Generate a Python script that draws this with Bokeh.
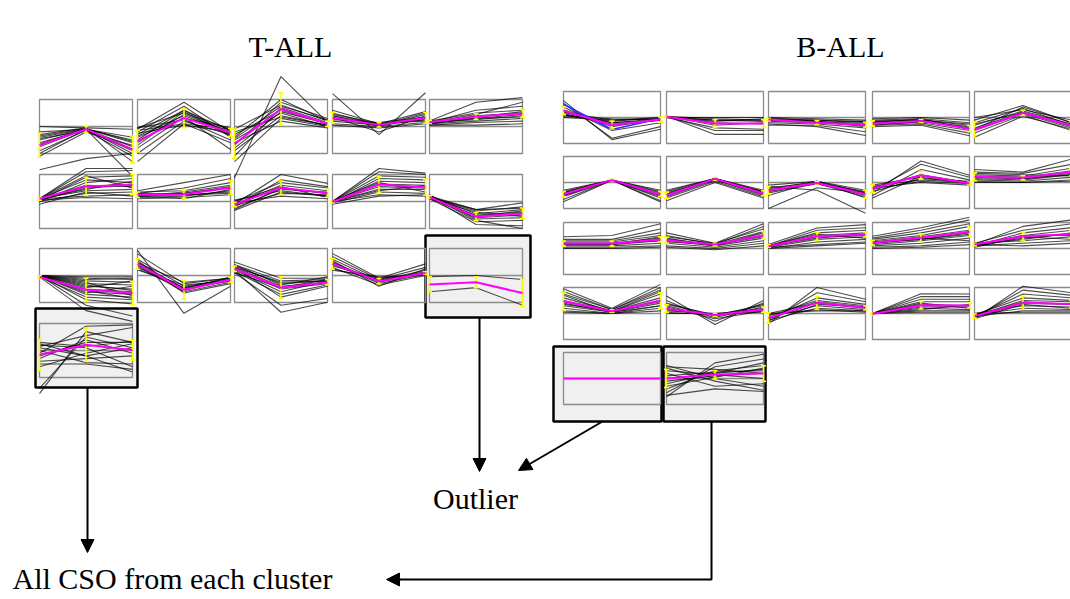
import numpy as np
from bokeh.plotting import figure
from bokeh.models import Range1d, Arrow, NormalHead
from bokeh.core.properties import value
from bokeh.embed import file_html
from bokeh.resources import INLINE

# ---------------- DATA (local units: midline = 0, box edge = +/-1) ----------------
TITLES = ["T-ALL", "B-ALL"]
LABEL_OUTLIER = "Outlier"
LABEL_CSO = "All CSO from each cluster"

# T-ALL clusters: rows 1-3 x 5 columns, then row 4 col 1
T_MEANS = [
    [-0.69, -0.10, -0.85], [-0.54, 0.31, -0.22], [-0.64, 0.65, 0.10], [0.32, 0.06, 0.32], [0.16, 0.37, 0.48],
    [0.10, 0.56, 0.62], [0.25, 0.27, 0.51], [-0.11, 0.51, 0.31], [-0.02, 0.63, 0.53], [0.16, -0.56, -0.44],
    [-0.06, -0.53, -0.65], [0.43, -0.53, -0.16], [0.25, -0.45, -0.25], [0.43, -0.21, 0.09], [-0.33, -0.25, -0.65],
    [-0.16, 0.21, 0.01],
]
T_ERRS = [
    [0.45, 0.12, 0.5], [0.4, 0.35, 0.15], [0.55, 0.6, 0.1], [0.2, 0.08, 0.2], [0.05, 0.1, 0.15],
    [0.05, 0.34, 0.37], [0.1, 0.15, 0.25], [0.08, 0.25, 0.15], [0.03, 0.3, 0.3], [0.05, 0.15, 0.2],
    [0.05, 0.43, 0.43], [0.2, 0.35, 0.1], [0.1, 0.4, 0.1], [0.2, 0.1, 0.05], [0.28, 0.2, 0.5],
    [0.58, 0.62, 0.37],
]
T_LINES = [
    [[0.0, -0.05, -0.1], [-0.2, -0.1, -0.4], [-0.35, -0.08, -0.6], [-0.5, -0.1, -0.75], [-0.6, -0.12, -0.9],
     [-0.75, -0.1, -1.0], [-0.9, -0.15, -1.1], [-1.1, -0.2, -0.7], [-0.3, -0.05, -1.3], [-1.6, -1.19, -1.0],
     [-0.4, -0.1, -1.85], [-1.0, -0.1, -0.5], [-0.65, -0.08, -0.55], [-0.45, -0.15, -0.85]],
    [[-0.1, 0.9, -0.2], [-0.2, 0.75, -0.4], [-0.3, 0.6, -0.3], [-0.05, 0.5, -0.1], [-0.6, 0.45, -0.2],
     [-0.4, 0.3, -0.05], [-1.0, 0.2, -0.3], [-1.3, 0.1, -0.6], [-0.8, 0.35, -0.85], [-0.15, 0.1, -0.1],
     [-0.25, 0.05, -0.2], [-0.5, 0.6, -0.15], [-0.05, 0.25, -0.5], [-0.35, 0.4, -0.25], [-0.7, 0.55, -0.35]],
    [[-0.1, 0.8, 0.2], [-0.3, 0.6, 0.1], [-0.5, 0.5, 0.0], [-0.7, 0.9, 0.3], [-0.9, 0.4, 0.05],
     [-1.1, 0.7, 0.15], [-1.3, 0.3, 0.0], [-0.2, 0.35, 0.05], [-0.4, 1.0, 0.2], [-0.6, 0.2, -0.05],
     [-1.9, 1.85, 0.15], [-0.8, 0.55, 0.1], [-0.45, 0.75, 0.25]],
    [[0.6, 0.1, 0.55], [0.5, 0.05, 0.5], [0.4, 0.0, 0.45], [0.3, 0.1, 0.3], [0.2, 0.05, 0.25],
     [0.1, 0.0, 0.15], [0.05, -0.05, 0.1], [0.35, -0.2, 0.4], [0.25, 0.15, 0.35], [0.45, 0.12, 0.2],
     [1.22, -0.3, 1.25], [0.3, 0.05, 0.35], [0.4, 0.08, 0.25]],
    [[0.05, 0.15, 0.2], [0.1, 0.2, 0.3], [0.15, 0.3, 0.35], [0.1, 0.4, 0.5], [0.2, 0.5, 0.6],
     [0.15, 0.6, 0.75], [0.2, 0.9, 1.07], [0.1, 0.3, 0.45], [0.05, 0.05, 0.1], [0.15, 0.45, 0.9],
     [0.1, 0.35, 0.55], [0.15, 0.25, 0.4]],
    [[0.1, 1.22, 1.22], [0.1, 1.1, 1.15], [0.05, 0.9, 0.95], [0.1, 0.8, 0.7], [0.0, 0.7, 0.85],
     [0.1, 0.6, 0.55], [0.05, 0.5, 0.6], [0.1, 0.4, 0.45], [0.0, 0.3, 0.35], [0.1, 0.2, 0.25],
     [0.05, 0.15, 0.1], [0.1, 0.95, 0.5], [0.1, 0.45, 0.75], [-0.1, 0.35, 0.2], [0.05, 0.55, 0.65]],
    [[0.4, 0.7, 1.0], [0.3, 0.5, 0.85], [0.35, 0.4, 0.7], [0.2, 0.35, 0.6], [0.25, 0.3, 0.5],
     [0.15, 0.2, 0.4], [0.3, 0.25, 0.3], [0.1, 0.15, 0.25], [0.2, 0.1, 0.45], [0.25, 0.3, 0.55],
     [0.2, 0.25, 0.35]],
    [[-0.1, 1.0, 0.67], [-0.2, 0.8, 0.55], [0.0, 0.7, 0.5], [-0.1, 0.6, 0.4], [-0.3, 0.5, 0.3],
     [0.05, 0.4, 0.2], [-0.15, 0.3, 0.25], [-0.05, 0.2, 0.1], [-0.25, 0.45, 0.35], [0.0, 0.55, 0.15],
     [-0.33, 0.35, 0.2], [-0.1, 0.5, 0.3]],
    [[0.0, 1.22, 1.05], [0.0, 1.1, 1.0], [0.0, 0.95, 0.9], [-0.05, 0.85, 0.8], [0.0, 0.75, 0.7],
     [0.0, 0.65, 0.6], [0.0, 0.55, 0.5], [0.0, 0.45, 0.45], [-0.05, 0.35, 0.3], [0.0, 0.25, 0.2],
     [0.0, 0.7, 0.35], [0.0, 0.4, 0.6], [-0.1, 0.2, 0.25]],
    [[0.2, -0.3, -0.05], [0.15, -0.35, -0.2], [0.2, -0.45, -0.3], [0.1, -0.5, -0.4], [0.15, -0.6, -0.5],
     [0.25, -0.65, -0.6], [0.1, -0.75, -0.7], [0.2, -0.85, -0.9], [0.15, -0.55, -0.35], [0.1, -0.4, -0.55],
     [0.2, -0.7, -1.0], [0.15, -0.3, -0.25], [0.2, -0.55, -0.45]],
    [[0.0, -0.05, -0.05], [0.0, -0.1, -0.15], [0.0, -0.2, -0.25], [0.0, -0.3, -0.35], [0.0, -0.4, -0.5],
     [-0.05, -0.5, -0.6], [0.0, -0.6, -0.7], [0.0, -0.7, -0.8], [-0.05, -0.8, -0.9], [0.0, -0.9, -1.05],
     [0.0, -0.45, -0.2], [0.0, -0.25, -0.75], [0.0, -1.1, -1.5], [-0.05, -1.3, -1.7], [0.0, -0.35, -0.55],
     [0.0, -0.65, -0.4], [0.0, -0.15, -0.1], [0.0, -0.55, -0.85]],
    [[0.93, -1.4, -0.4], [0.8, -0.3, -0.1], [0.6, -0.4, -0.15], [0.5, -0.5, -0.2], [0.4, -0.55, -0.15],
     [0.35, -0.6, -0.25], [0.3, -0.45, -0.1], [0.2, -0.35, -0.2], [0.45, -0.25, -0.1], [0.55, -0.65, -0.3],
     [0.25, -0.5, -0.05], [0.4, -0.45, -0.2]],
    [[0.5, -0.1, -0.1], [0.4, -0.2, -0.15], [0.35, -0.3, -0.2], [0.3, -0.4, -0.25], [0.25, -0.5, -0.3],
     [0.2, -0.6, -0.2], [0.15, -0.7, -0.35], [0.3, -0.8, -0.4], [0.1, -1.1, -0.85], [0.2, -1.36, -0.99],
     [0.4, -0.35, -0.05], [0.1, -0.45, -0.15], [0.3, -0.25, -0.2]],
    [[0.81, -0.1, 0.43], [0.7, -0.15, 0.3], [0.6, -0.2, 0.2], [0.5, -0.25, 0.1], [0.45, -0.3, 0.05],
     [0.4, -0.2, 0.15], [0.3, -0.35, 0.0], [0.25, -0.15, 0.1], [0.35, -0.1, 0.05], [0.55, -0.4, 0.25],
     [0.2, -0.05, 0.0], [0.45, -0.2, 0.1]],
    [[-0.04, 0.0, -0.15], [-0.6, -0.45, -1.1]],
    [[-1.6, 0.7, 0.3], [-1.4, 0.5, 0.1], [0.2, 0.1, -0.6], [0.1, -0.2, -0.8], [-0.2, 0.3, 0.3],
     [-0.4, -0.3, -0.2], [0.3, 0.15, 0.35], [-0.6, -0.1, 0.25], [0.0, -0.45, -0.5], [-0.3, 0.4, -0.1],
     [0.15, 0.55, 0.85], [-0.1, 0.9, 0.95], [0.25, -0.2, 0.1], [-0.5, -0.5, -0.7]],
]

# B-ALL clusters: rows 1-4 x 5 columns, then row 5 cols 1-2
B_MEANS = [
    [0.26, -0.29, -0.08], [0.03, -0.23, -0.23], [-0.08, -0.20, -0.28], [-0.23, -0.13, -0.43], [-0.47, 0.18, -0.30],
    [-0.45, 0.09, -0.45], [-0.49, 0.14, -0.42], [-0.30, -0.02, -0.45], [-0.23, 0.28, -0.04], [0.22, 0.18, 0.40],
    [0.19, 0.19, 0.35], [0.31, 0.15, 0.51], [0.09, 0.47, 0.54], [0.22, 0.41, 0.64], [0.15, 0.47, 0.55],
    [0.47, 0.09, 0.50], [0.19, -0.06, 0.15], [-0.17, 0.41, 0.22], [-0.02, 0.32, 0.31], [-0.10, 0.41, 0.36],
    [0.0, 0.0, 0.0], [0.0, 0.15, 0.19],
]
B_ERRS = [
    [0.15, 0.15, 0.1], [0.03, 0.15, 0.15], [0.05, 0.08, 0.1], [0.1, 0.05, 0.12], [0.3, 0.1, 0.15],
    [0.1, 0.03, 0.1], [0.12, 0.05, 0.1], [0.15, 0.05, 0.15], [0.15, 0.15, 0.05], [0.15, 0.08, 0.15],
    [0.1, 0.1, 0.1], [0.12, 0.05, 0.15], [0.05, 0.15, 0.1], [0.1, 0.15, 0.2], [0.05, 0.15, 0.15],
    [0.35, 0.05, 0.3], [0.15, 0.05, 0.1], [0.2, 0.25, 0.08], [0.03, 0.15, 0.1], [0.08, 0.25, 0.15],
    [0.0, 0.0, 0.0], [0.35, 0.15, 0.3],
]
B_BLUE = [0.51, -0.46, -0.04]  # highlighted profile in first B-ALL cluster
B_LINES = [
    [[0.65, -0.85, -0.45], [0.55, -0.8, -0.35], [0.4, -0.5, -0.2], [0.3, -0.3, -0.1], [0.2, -0.2, -0.05],
     [0.1, -0.15, 0.0], [0.0, -0.1, 0.0], [0.15, -0.25, -0.1], [0.25, -0.35, -0.05], [0.05, -0.05, -0.1],
     [0.2, -0.1, -0.05], [0.1, -0.2, -0.1]],
    [[0.05, -0.65, -0.65], [0.05, -0.5, -0.5], [0.0, -0.4, -0.45], [0.05, -0.2, -0.25], [0.0, -0.1, -0.15],
     [0.05, -0.05, -0.1], [0.0, -0.15, -0.05], [0.05, -0.3, -0.2], [0.0, 0.0, 0.0], [0.03, -0.1, -0.1]],
    [[0.0, -0.05, -0.1], [-0.05, -0.1, -0.2], [-0.1, -0.15, -0.25], [-0.15, -0.2, -0.3], [-0.2, -0.25, -0.4],
     [-0.25, -0.35, -0.69], [-0.3, -0.3, -0.55], [-0.05, -0.2, -0.15], [0.0, -0.15, -0.35], [-0.1, -0.1, -0.15]],
    [[-0.05, 0.0, -0.1], [-0.1, -0.05, -0.2], [-0.15, -0.1, -0.3], [-0.2, -0.15, -0.4], [-0.25, -0.2, -0.5],
     [-0.3, -0.25, -0.6], [-0.35, -0.3, -0.7], [-0.2, -0.05, -0.45], [-0.3, -0.15, -0.35], [-0.15, -0.1, -0.25]],
    [[-0.1, 0.46, -0.2], [-0.2, 0.35, -0.3], [-0.3, 0.25, -0.25], [-0.4, 0.2, -0.35], [-0.5, 0.15, -0.4],
     [-0.6, 0.1, -0.5], [-0.76, 0.05, -0.45], [0.0, 0.3, -0.1], [-0.45, 0.4, -0.2], [-0.25, 0.2, -0.3]],
    [[-0.3, 0.09, -0.3], [-0.35, 0.09, -0.4], [-0.4, 0.09, -0.45], [-0.45, 0.09, -0.5], [-0.5, 0.09, -0.55],
     [-0.55, 0.09, -0.6], [-0.65, 0.09, -0.7], [-0.74, 0.09, -0.75], [-0.4, 0.09, -0.35], [-0.5, 0.09, -0.45]],
    [[-0.3, 0.15, -0.3], [-0.4, 0.1, -0.35], [-0.45, 0.15, -0.4], [-0.5, 0.12, -0.45], [-0.55, 0.1, -0.5],
     [-0.6, 0.05, -0.55], [-0.7, 0.0, -0.6], [-0.35, 0.15, -0.45], [-0.5, 0.15, -0.35], [-0.45, 0.12, -0.4]],
    [[-1.0, -0.2, -0.4], [-0.1, 0.05, -0.3], [-0.2, 0.0, -0.35], [-0.25, 0.05, -0.4], [-0.3, -0.05, -0.45],
     [-0.35, 0.0, -0.5], [-0.4, -0.05, -0.55], [-0.5, 0.05, -0.6], [-0.15, -0.3, -1.18], [-0.3, 0.0, -0.4]],
    [[-0.4, 0.83, 0.28], [-0.3, 0.7, 0.2], [-0.5, 0.5, 0.1], [-0.2, 0.3, 0.0], [-0.1, 0.2, -0.05],
     [-0.15, 0.1, 0.0], [-0.25, 0.05, -0.05], [-0.35, 0.15, 0.05], [-0.6, 0.25, -0.05], [-0.2, 0.0, -0.1]],
    [[0.5, 0.4, 0.9], [0.4, 0.35, 0.7], [0.3, 0.25, 0.55], [0.25, 0.2, 0.45], [0.2, 0.15, 0.35],
     [0.15, 0.1, 0.3], [0.1, 0.05, 0.2], [0.05, 0.0, 0.1], [0.0, 0.0, 0.05], [0.35, 0.3, 0.25], [0.2, 0.15, 0.3]],
    [[0.45, 0.5, 0.95], [0.35, 0.35, 0.75], [0.3, 0.3, 0.6], [0.25, 0.25, 0.5], [0.2, 0.2, 0.4],
     [0.15, 0.15, 0.3], [0.1, 0.1, 0.2], [0.05, 0.05, 0.1], [0.0, 0.0, 0.05], [0.2, 0.15, 0.45], [0.15, 0.2, 0.3]],
    [[0.6, 0.2, 0.95], [0.5, 0.15, 0.85], [0.45, 0.2, 0.75], [0.4, 0.1, 0.6], [0.35, 0.15, 0.5],
     [0.3, 0.1, 0.4], [0.2, 0.05, 0.3], [0.1, 0.0, 0.2], [0.05, -0.05, 0.1], [0.25, 0.15, 0.65], [0.3, 0.15, 0.45]],
    [[0.15, 0.79, 0.92], [0.1, 0.7, 0.8], [0.1, 0.6, 0.7], [0.05, 0.5, 0.6], [0.1, 0.4, 0.55],
     [0.05, 0.35, 0.45], [0.0, 0.25, 0.35], [0.05, 0.15, 0.25], [0.0, 0.1, 0.2], [0.1, 0.55, 0.4], [0.08, 0.45, 0.5]],
    [[0.47, 0.8, 1.2], [0.4, 0.7, 1.1], [0.35, 0.6, 0.95], [0.3, 0.5, 0.85], [0.25, 0.45, 0.7],
     [0.2, 0.35, 0.6], [0.15, 0.3, 0.5], [0.1, 0.2, 0.4], [0.05, 0.1, 0.25], [0.0, 0.05, 0.15], [0.2, 0.4, 0.3],
     [0.25, 0.35, 0.55]],
    [[0.15, 0.85, 1.1], [0.2, 0.7, 0.95], [0.1, 0.6, 0.8], [0.15, 0.5, 0.7], [0.1, 0.4, 0.55],
     [0.2, 0.3, 0.45], [0.1, 0.2, 0.3], [0.15, 0.1, 0.2], [0.05, 0.45, 0.35], [0.15, 0.35, 0.6], [0.12, 0.5, 0.5]],
    [[0.95, 0.2, 1.12], [0.85, 0.15, 1.0], [0.75, 0.15, 0.9], [0.6, 0.1, 0.75], [0.5, 0.1, 0.6],
     [0.4, 0.05, 0.5], [0.3, 0.05, 0.4], [0.2, 0.0, 0.3], [0.1, 0.0, 0.2], [0.05, 0.0, 0.1],
     [0.35, 0.1, 0.85], [0.7, 0.05, 0.3], [0.45, 0.1, 0.45]],
    [[0.67, -0.42, 0.5], [0.5, -0.3, 0.4], [0.4, -0.1, 0.35], [0.35, -0.05, 0.3], [0.3, -0.15, 0.25],
     [0.2, -0.05, 0.2], [0.1, 0.0, 0.15], [0.05, -0.05, 0.1], [0.0, 0.0, 0.05], [0.25, -0.2, 0.1], [0.15, -0.05, 0.15]],
    [[-0.4, 1.0, 0.55], [-0.3, 0.8, 0.45], [-0.2, 0.6, 0.35], [-0.1, 0.5, 0.3], [0.0, 0.4, 0.2],
     [-0.15, 0.3, 0.15], [-0.25, 0.2, 0.1], [-0.05, 0.15, 0.05], [-0.35, 0.35, 0.25], [0.0, 0.1, 0.1],
     [-0.2, 0.45, 0.25]],
    [[0.0, 0.76, 0.75], [0.0, 0.65, 0.65], [0.0, 0.55, 0.55], [0.0, 0.45, 0.45], [0.0, 0.35, 0.3],
     [0.0, 0.25, 0.25], [0.0, 0.2, 0.15], [0.0, 0.1, 0.1], [0.0, 0.05, 0.05], [0.0, 0.4, 0.2], [0.0, 0.15, 0.35],
     [0.0, 0.3, 0.3]],
    [[-0.2, 1.05, 0.8], [-0.15, 0.9, 0.7], [-0.1, 0.75, 0.6], [-0.05, 0.6, 0.5], [-0.1, 0.5, 0.45],
     [-0.15, 0.4, 0.35], [0.0, 0.3, 0.25], [-0.05, 0.2, 0.15], [-0.1, 0.1, 0.1], [0.0, 0.05, 0.05],
     [-0.2, 0.35, 0.2], [-0.1, 0.45, 0.35]],
    [],
    [[-0.7, 0.6, 0.93], [-0.55, 0.45, 0.75], [-0.4, 0.3, 0.5], [-0.2, 0.2, 0.35], [0.5, 0.0, -0.3],
     [0.4, -0.1, -0.45], [0.3, 0.15, 0.0], [0.1, 0.25, 0.3], [-0.1, 0.1, 0.2], [0.2, -0.3, -0.2],
     [-0.3, 0.05, 0.4], [0.45, 0.35, 0.2], [0.0, 0.2, 0.6], [-0.65, -0.4, -0.5]],
]

# ---------------- LAYOUT (pixels) ----------------
W, H = 1070, 599
T_COLS = [39, 137, 234, 332, 429]
T_ROWS = [99, 174, 248, 323]
T_W, T_H = 93, 54
T_CELLS = [(r, c) for r in range(3) for c in range(5)] + [(3, 0)]
B_COLS = [563, 666, 768, 872, 974]
B_ROWS = [91, 156, 222, 287, 352]
B_W, B_H = 97, 52
B_CELLS = [(r, c) for r in range(4) for c in range(5)] + [(4, 0), (4, 1)]
FRAMES = [(35, 308, 137, 387), (425, 235, 530, 317), (553, 346, 661, 421), (663, 346, 765, 421)]

p = figure(width=W, height=H, output_backend="svg", toolbar_location=None,
           x_range=Range1d(0, W), y_range=Range1d(H, 0), min_border=0)
p.axis.visible = False
p.xgrid.visible = False
p.ygrid.visible = False
p.outline_line_color = None
p.background_fill_color = "white"
p.border_fill_color = "white"

# highlight frames
p.quad(left=[f[0] for f in FRAMES], right=[f[2] for f in FRAMES],
       top=[f[1] for f in FRAMES], bottom=[f[3] for f in FRAMES],
       fill_color="#f0f0f0", line_color="black", line_width=2.5)


def to_px(x0, y0, w, h, vals):
    xs = [x0 + i * w / 2.0 for i in range(3)]
    ys = [y0 + h / 2.0 - v * h / 2.0 for v in vals]
    return xs, ys


panels = []
for (r, c), m, e, lines in zip(T_CELLS, T_MEANS, T_ERRS, T_LINES):
    panels.append((T_COLS[c], T_ROWS[r], T_W, T_H, m, e, lines))
for (r, c), m, e, lines in zip(B_CELLS, B_MEANS, B_ERRS, B_LINES):
    panels.append((B_COLS[c], B_ROWS[r], B_W, B_H, m, e, lines))

# boxes and midlines
p.quad(left=[q[0] for q in panels], right=[q[0] + q[2] for q in panels],
       top=[q[1] for q in panels], bottom=[q[1] + q[3] for q in panels],
       fill_color=None, line_color="#8c8c8c", line_width=1.3)
p.segment(x0=[q[0] for q in panels], x1=[q[0] + q[2] for q in panels],
          y0=[q[1] + q[3] / 2 for q in panels], y1=[q[1] + q[3] / 2 for q in panels],
          line_color="#8c8c8c", line_width=1.3)

# member profiles
gx, gy = [], []
for x0, y0, w, h, m, e, lines in panels:
    for ln in lines:
        xs, ys = to_px(x0, y0, w, h, ln)
        gx.append(xs)
        gy.append(ys)
p.multi_line(xs=gx, ys=gy, line_color="black", line_alpha=0.7, line_width=1.1)

# blue profile
bx, by = to_px(B_COLS[0], B_ROWS[0], B_W, B_H, B_BLUE)
p.line(bx, by, line_color="#2a2aff", line_width=1.5)

# error bars
ex0, ey0, ey1, cx0, cx1, cy = [], [], [], [], [], []
for x0, y0, w, h, m, e, lines in panels:
    for i in range(3):
        if e[i] <= 0:
            continue
        xs, ys_hi = to_px(x0, y0, w, h, [m[i] + e[i]] * 3)
        _, ys_lo = to_px(x0, y0, w, h, [m[i] - e[i]] * 3)
        x = xs[i]
        ex0.append(x); ey0.append(ys_lo[i]); ey1.append(ys_hi[i])
        for yy in (ys_lo[i], ys_hi[i]):
            cx0.append(x - 2.5); cx1.append(x + 2.5); cy.append(yy)
p.segment(x0=ex0, x1=ex0, y0=ey0, y1=ey1, line_color="#ffff00", line_width=1.6)
p.segment(x0=cx0, x1=cx1, y0=cy, y1=cy, line_color="#ffff00", line_width=1.6)

# mean profiles
mx, my = [], []
for x0, y0, w, h, m, e, lines in panels:
    xs, ys = to_px(x0, y0, w, h, m)
    mx.append(xs)
    my.append(ys)
p.multi_line(xs=mx, ys=my, line_color="#ff00ff", line_width=2)

# arrows
p.line([711, 711, 395], [421, 579, 579], line_color="black", line_width=2)
for xs_, ys_, xe, ye in [(87, 387, 87, 552), (479, 317, 479, 471), (602, 421, 518, 470), (400, 579, 386, 579)]:
    p.add_layout(Arrow(end=NormalHead(size=13, fill_color="black", line_color="black"),
                       x_start=xs_, y_start=ys_, x_end=xe, y_end=ye,
                       line_color="black", line_width=2))

# texts
FONT = value("Liberation Serif")
p.text(x=[290, 840], y=[46, 46], text=TITLES, text_font=FONT,
       text_font_size=value("30px"), text_align="center", text_baseline="middle", text_color="black")
p.text(x=[475], y=[498], text=[LABEL_OUTLIER], text_font=FONT,
       text_font_size=value("30px"), text_align="center", text_baseline="middle", text_color="black")
p.text(x=[12], y=[578], text=[LABEL_CSO], text_font=FONT,
       text_font_size=value("30px"), text_align="left", text_baseline="middle", text_color="black")

open("out.html", "w").write(file_html(p, INLINE))
